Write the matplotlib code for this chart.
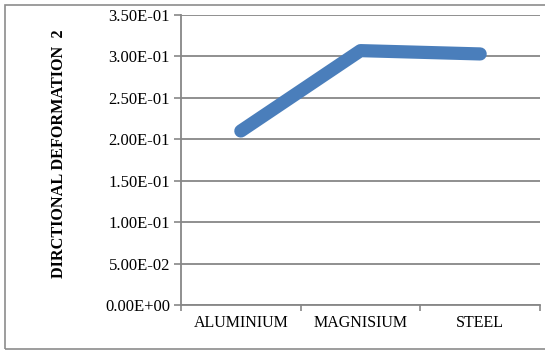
import matplotlib
matplotlib.use("Agg")
import matplotlib.pyplot as plt
from matplotlib.ticker import FuncFormatter, FixedLocator
from matplotlib.patches import Rectangle

materials = ["ALUMINIUM", "MAGNISIUM", "STEEL"]
deformation = [0.210, 0.307, 0.303]
y_ticks = [0.0, 0.05, 0.10, 0.15, 0.20, 0.25, 0.30, 0.35]
y_label = "DIRCTIONAL DEFORMATION  2"

plt.rcParams["font.family"] = ["Liberation Serif", "DejaVu Serif"]
grid_col = "#878787"

fig = plt.figure(figsize=(5.45, 3.51), dpi=100)
ax = fig.add_axes([181 / 545, 46 / 351, 359 / 545, 290 / 351])

x = list(range(len(materials)))
ax.plot(x, deformation, color="#4a7ebb", lw=9.5, solid_capstyle="round",
        solid_joinstyle="round", zorder=3)

ax.set_xlim(-0.5, len(materials) - 0.5)
ax.set_ylim(0, 0.35)
ax.set_yticks(y_ticks)
ax.yaxis.set_major_formatter(FuncFormatter(lambda v, p: f"{v:.2E}"))
ax.set_xticks(x)
ax.set_xticklabels(materials)
ax.xaxis.set_minor_locator(FixedLocator([i - 0.5 for i in range(len(materials) + 1)]))
ax.tick_params(axis="x", which="major", length=0, pad=7, labelsize=11.5)
ax.tick_params(axis="x", which="minor", length=4, width=1.2, color=grid_col)
ax.tick_params(axis="y", length=5, width=1.2, color=grid_col, labelsize=12, pad=3)

ax.grid(axis="y", color=grid_col, lw=1.3, zorder=1)
for s in ["top", "right"]:
    ax.spines[s].set_visible(False)
for s in ["left", "bottom"]:
    ax.spines[s].set_color(grid_col)
    ax.spines[s].set_linewidth(1.3)

fig.text(59 / 545, 1 - 154 / 351, y_label, rotation=90, ha="center", va="center",
         fontsize=11.7, fontweight="bold")

fig.patches.append(Rectangle((5 / 545, 2 / 351), 545 / 545, 344 / 351,
                             transform=fig.transFigure, fill=False,
                             edgecolor="#8c8c8c", lw=1.2))

fig.savefig("out.png", dpi=100)
